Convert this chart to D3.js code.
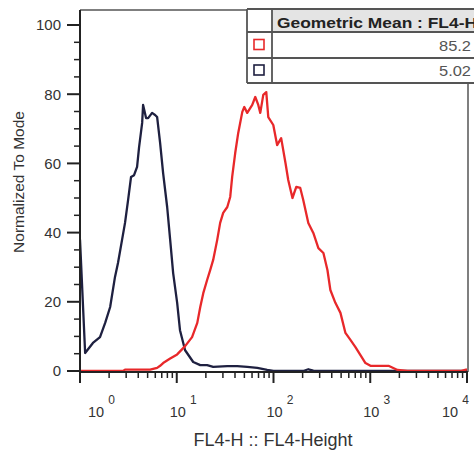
<!DOCTYPE html>
<html>
<head>
<meta charset="utf-8">
<script src="https://cdn.jsdelivr.net/npm/d3@7"></script>
<style>
  html, body { margin: 0; padding: 0; background: #fff; }
  svg { display: block; }
  text { font-family: "Liberation Sans", Arial, sans-serif; }
</style>
</head>
<body>
<svg id="chart" width="474" height="452"></svg>
<script>
// ---- data (FL4-H value, normalized-to-mode %) ----
const blueX = [1.00, 1.13, 1.36, 1.61, 1.82, 2.05, 2.30, 2.47, 2.72, 2.92, 3.14, 3.37, 3.62, 3.89, 4.08, 4.39, 4.49, 4.82, 5.06, 5.56, 5.97, 6.27, 6.73, 7.23, 7.96, 8.55, 9.18, 10.1, 10.8, 12.2, 14.8, 17.5, 20.6, 23.8, 33.3, 42.2, 53.5, 68, 86, 100, 203, 229, 258, 387, 10000];
const blueY = [38, 5.2, 8.1, 9.8, 13.9, 18.5, 27.2, 31.2, 37.9, 42.8, 49.4, 56.1, 56.6, 59, 64.7, 71.7, 76.9, 73.1, 73.1, 74.6, 74, 73.4, 65.9, 57.2, 47.4, 37.9, 28.3, 19.7, 11.8, 6, 2.6, 1.7, 1.7, 1.2, 1.4, 1.4, 1.2, 0.9, 0.3, 0, 0, 0.5, 0.1, 0, 0];
const redX = [1, 2.79, 2.92, 5.31, 6.27, 6.73, 7.23, 8.55, 10.1, 12.2, 14.4, 16.3, 17.5, 18.8, 20.6, 22.2, 23.8, 26.2, 28.1, 30.2, 33.3, 35.7, 37.4, 40.2, 43.2, 47.6, 49.9, 53.5, 60.3, 64.8, 69.6, 73, 78.4, 84.2, 88.3, 99.5, 109, 120, 133, 142, 157, 172, 189, 203, 229, 258, 291, 328, 361, 387, 436, 492, 554, 624, 703, 792, 892, 1005, 1543, 1914, 2427, 8590, 10000];
const redY = [0, 0, 0.4, 0.4, 0.9, 1.5, 2.3, 3.6, 4.8, 7.2, 9.8, 13.9, 18.5, 22.5, 26.3, 29.2, 32.1, 37.9, 42.8, 45.7, 47.4, 50.3, 56.1, 63, 68.8, 74.9, 76.3, 74.6, 76.9, 79.2, 76.9, 74.6, 79.8, 80.6, 73.4, 71.1, 65.3, 67.3, 60.1, 55.2, 50, 53.2, 52.9, 49.4, 42.8, 39.9, 35.5, 34.1, 29.2, 23.4, 19.7, 16.8, 11, 9, 6.9, 4.6, 2.3, 1.5, 1.5, 0.3, 0, 0, 0.5];

const yTickValues = [0, 20, 40, 60, 80, 100];
const xDecades = [0, 1, 2, 3, 4];
const legendHeader = "Geometric Mean : FL4-H";
const legendValues = ["85.2", "5.02"];
const seriesColors = ["#e8282a", "#1e2040"];
const xTitle = "FL4-H :: FL4-Height";
const yTitle = "Normalized To Mode";

// ---- layout ----
const svg = d3.select("#chart");
const x = d3.scaleLog().domain([1, 10000]).range([80, 467]);
const y = d3.scaleLinear().domain([0, 100]).range([371, 25]);
const yTop = y(104.3);
const xRight = 468;
const axisY = y(0) + 1;

svg.append("defs").append("clipPath").attr("id", "clip")
  .append("rect").attr("x", 80).attr("y", yTop).attr("width", xRight - 80).attr("height", axisY - yTop + 2);

// frame (top + right)
svg.append("line").attr("x1", 80).attr("x2", xRight).attr("y1", yTop).attr("y2", yTop)
  .attr("stroke", "#555").attr("stroke-width", 1.5);
svg.append("line").attr("x1", xRight).attr("x2", xRight).attr("y1", yTop).attr("y2", axisY)
  .attr("stroke", "#555").attr("stroke-width", 1.5);

// curves
const line = d3.line().x(d => x(d[0])).y(d => y(d[1]));
const blue = blueX.map((v, i) => [v, blueY[i]]);
const red = redX.map((v, i) => [v, redY[i]]);
const g = svg.append("g").attr("clip-path", "url(#clip)");
g.append("path").datum(blue).attr("d", line).attr("fill", "none")
  .attr("stroke", seriesColors[1]).attr("stroke-width", 2.3).attr("stroke-linejoin", "round");
g.append("path").datum(red).attr("d", line).attr("fill", "none")
  .attr("stroke", seriesColors[0]).attr("stroke-width", 2.3).attr("stroke-linejoin", "round");

// y axis
svg.append("line").attr("x1", 80).attr("x2", 80).attr("y1", yTop).attr("y2", axisY)
  .attr("stroke", "#222").attr("stroke-width", 2);
const yMinor = d3.range(5, 101, 5).filter(v => v % 20 !== 0);
svg.selectAll(".ymin").data(yMinor).enter().append("line")
  .attr("x1", 74).attr("x2", 80).attr("y1", d => y(d)).attr("y2", d => y(d))
  .attr("stroke", "#222").attr("stroke-width", 1.5);
svg.selectAll(".ymaj").data(yTickValues).enter().append("line")
  .attr("x1", 67).attr("x2", 80).attr("y1", d => y(d)).attr("y2", d => y(d))
  .attr("stroke", "#222").attr("stroke-width", 2);
svg.selectAll(".ylab").data(yTickValues).enter().append("text")
  .attr("x", 61).attr("y", d => y(d)).attr("dy", "0.36em")
  .attr("text-anchor", "end").attr("font-size", 15).attr("fill", "#333")
  .text(d => d);

// x axis
svg.append("line").attr("x1", 79).attr("x2", xRight).attr("y1", axisY).attr("y2", axisY)
  .attr("stroke", "#222").attr("stroke-width", 2);
const xMinor = [];
for (let dcd = 0; dcd < 4; dcd++) for (let m = 2; m <= 9; m++) xMinor.push(m * Math.pow(10, dcd));
svg.selectAll(".xmin").data(xMinor).enter().append("line")
  .attr("x1", d => x(d)).attr("x2", d => x(d)).attr("y1", axisY).attr("y2", axisY + 6)
  .attr("stroke", "#222").attr("stroke-width", 1.5);
svg.selectAll(".xmaj").data(xDecades).enter().append("line")
  .attr("x1", d => x(Math.pow(10, d))).attr("x2", d => x(Math.pow(10, d)))
  .attr("y1", axisY).attr("y2", axisY + 11)
  .attr("stroke", "#222").attr("stroke-width", 2);
const xLabOffset = d => d === 0 ? 8 : (d === 4 ? -25 : -7);
const xl = svg.selectAll(".xlab").data(xDecades).enter().append("text")
  .attr("x", d => x(Math.pow(10, d)) + xLabOffset(d)).attr("y", 417)
  .attr("font-size", 14.5).attr("fill", "#333");
xl.append("tspan").text("10");
xl.append("tspan").attr("dx", 4).attr("dy", -13).attr("font-size", 12).text(d => d);

// axis titles
svg.append("text").attr("x", 273).attr("y", 446).attr("text-anchor", "middle")
  .attr("font-size", 18).attr("fill", "#333").text(xTitle);
svg.append("text").attr("transform", "translate(24,182) rotate(-90)")
  .attr("text-anchor", "middle").attr("font-size", 15.5).attr("fill", "#333").text(yTitle);

// legend table
const tL = 247, tC = 272, tR = 480;
const rows = [9, 32, 58, 83];
svg.append("rect").attr("x", tL).attr("y", rows[0]).attr("width", tR - tL).attr("height", rows[3] - rows[0])
  .attr("fill", "#fff");
svg.append("rect").attr("x", tC).attr("y", rows[0]).attr("width", tR - tC).attr("height", rows[1] - rows[0])
  .attr("fill", "#e4e4e4");
rows.forEach((r, i) => {
  svg.append("line").attr("x1", tL).attr("x2", tR).attr("y1", r).attr("y2", r)
    .attr("stroke", "#555").attr("stroke-width", i === 0 ? 2 : 1.8);
});
[tL, tC].forEach(c => {
  svg.append("line").attr("x1", c).attr("x2", c).attr("y1", rows[0]).attr("y2", rows[3])
    .attr("stroke", "#555").attr("stroke-width", 1.8);
});
svg.append("text").attr("x", 277).attr("y", 28).attr("font-family", "DejaVu Sans")
  .attr("font-weight", "bold").attr("font-size", 14.5).attr("fill", "#222")
  .attr("textLength", 200).attr("lengthAdjust", "spacingAndGlyphs").text(legendHeader);
legendValues.forEach((v, i) => {
  const cy = (rows[i + 1] + rows[i + 2]) / 2;
  svg.append("rect").attr("x", 254).attr("y", cy - 5.5).attr("width", 10).attr("height", 10)
    .attr("fill", "#fff").attr("stroke", seriesColors[i]).attr("stroke-width", 1.6);
  svg.append("text").attr("x", 471).attr("y", cy).attr("dy", "0.38em").attr("text-anchor", "end")
    .attr("font-family", "DejaVu Sans").attr("font-size", 14.5).attr("fill", "#555")
    .attr("textLength", 32).attr("lengthAdjust", "spacingAndGlyphs").text(v);
});
</script>
</body>
</html>
